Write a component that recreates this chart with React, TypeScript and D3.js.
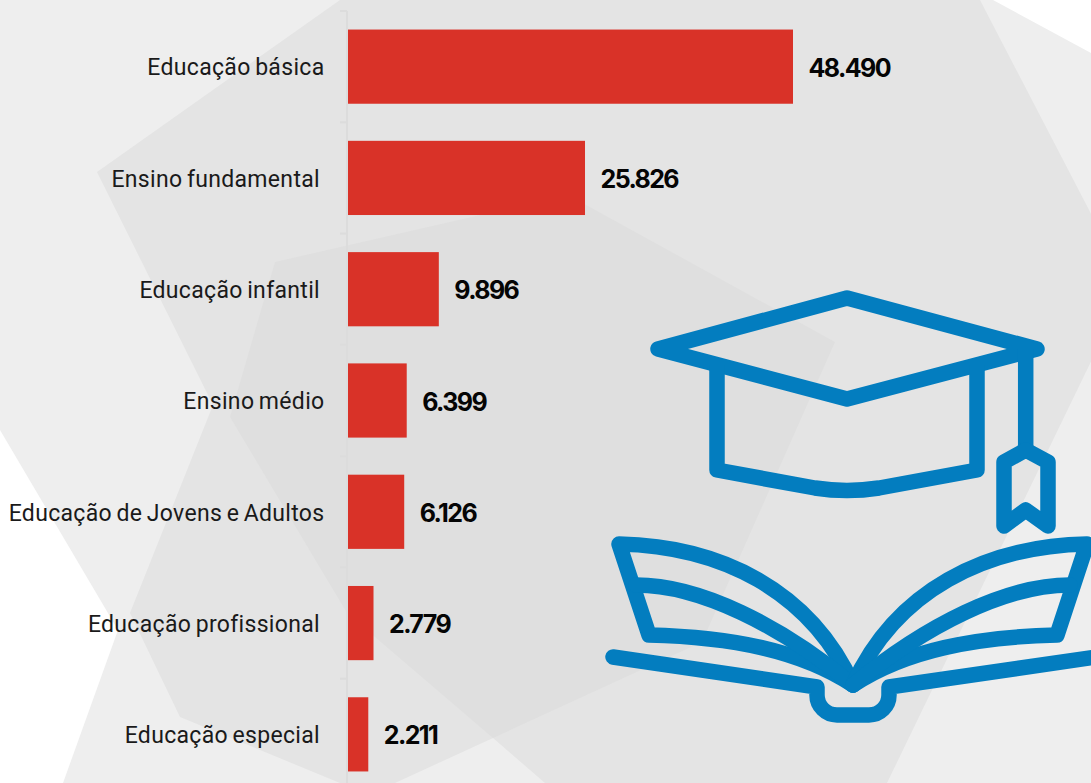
import React from 'react';
import * as d3 from 'd3';

// trailing spaces are in the source labels, they shift the text a little
const categories = [
  'Educação básica',
  'Ensino fundamental ',
  'Educação infantil ',
  'Ensino médio',
  'Educação de Jovens e Adultos',
  'Educação profissional ',
  'Educação especial ',
];
const values = [48490, 25826, 9896, 6399, 6126, 2779, 2211];

const width = 1091;
const height = 783;
const axisX = 348;
const barColor = '#d93228';
const iconColor = '#037dbf';

const ptBR = d3.formatLocale({ decimal: ',', thousands: '.', grouping: [3], currency: ['R$', ''] });
const fmt = ptBR.format(',d');

const x = d3.scaleLinear().domain([0, 48490]).range([axisX, 793]);
const y = d3.scaleBand<string>().domain(categories).range([11, 790]).paddingInner(1 / 3).paddingOuter(1 / 6);

// background shapes, painted light to dark
const poly = (pts: number[][]) => d3.line()(pts as [number, number][]) + 'Z';
const whiteTop = [[993, 0], [1091, 53], [1091, 0]];
const whiteBottom = [[0, 430], [118, 630], [63, 783], [0, 783]];
const midShape = [
  [340, 0], [97, 172], [213, 405], [130, 613], [180, 717], [340, 783], [395, 783], [493, 738],
  [545, 783], [887, 783], [1128, 285], [980, 0],
];
const darkShape = [
  [230, 417], [275, 262], [568, 195], [835, 342], [702, 642], [493, 738], [347, 613],
];

const Cap = () => (
  <g fill="none" stroke={iconColor} strokeWidth={15.5} strokeLinejoin="round" strokeLinecap="round">
    <path d="M658,349 L847,298 L1037,349 L847,399 Z" />
    <path d="M717,365 V470 L815,488 Q847,493 879,488 L977,470 V365" strokeLinecap="butt" />
    <path d="M1025.7,349 V450" strokeLinecap="butt" />
    <path d="M1025.7,450 L1048,462 V526 L1025.7,510 L1004,526 V462 Z" />
  </g>
);

const Book = () => (
  <g fill="none" stroke={iconColor} strokeWidth={15.5} strokeLinejoin="round" strokeLinecap="round">
    <path d="M853,685 C810,590 720,546 619,544 L649,635 C730,637 800,650 853,685" />
    <path d="M636,585 C700,585 780,625 853,685" />
    <path d="M853,685 C896,590 986,546 1087,544 L1057,635 C976,637 906,650 853,685" />
    <path d="M1070,585 C1006,585 926,625 853,685" />
    <path d="M613,657 L817,687 V695 A20,20 0 0 0 837,715 H869 A20,20 0 0 0 889,695 V687 L1110,655" />
  </g>
);

export default function App() {
  return (
    <svg
      width={width}
      height={height}
      style={{ position: 'absolute', left: 0, top: 0, background: '#eeeeee' }}
    >
      <path d={poly(whiteTop)} fill="#fff" />
      <path d={poly(whiteBottom)} fill="#fff" />
      <path d={poly(midShape)} fill="#e4e4e4" />
      <path d={poly(darkShape)} fill="#dfdfdf" />

      {/* axis, ticks sit on the band edges */}
      <line x1={axisX - 1} x2={axisX - 1} y1={11} y2={790} stroke="#dcdcdc" strokeWidth={2} />
      {categories.map((c) => (
        <line
          key={c}
          x1={axisX - 8}
          x2={axisX - 1}
          y1={y(c)! - (y.step() - y.bandwidth()) / 2}
          y2={y(c)! - (y.step() - y.bandwidth()) / 2}
          stroke="#dcdcdc"
          strokeWidth={2}
        />
      ))}

      {categories.map((c, i) => (
        <g key={c}>
          <rect x={x(0)} y={y(c)} width={x(values[i]) - x(0)} height={y.bandwidth()} fill={barColor} />
          <text
            x={324.5}
            y={y(c)! + y.bandwidth() / 2}
            dy="0.38em"
            textAnchor="end"
            fontFamily="Roboto"
            fontSize={23}
            letterSpacing={0.32}
            wordSpacing={-1.5}
            fill="#1a1a1a"
            style={{ whiteSpace: 'pre' }}
          >
            {c}
          </text>
          <text
            x={x(values[i]) + 15.5}
            y={y(c)! + y.bandwidth() / 2}
            dy="0.4em"
            fontFamily="Inter"
            fontWeight={700}
            fontSize={25}
            letterSpacing={-1.6}
            fill="#050505"
          >
            {fmt(values[i])}
          </text>
        </g>
      ))}

      <Cap />
      <Book />
    </svg>
  );
}
